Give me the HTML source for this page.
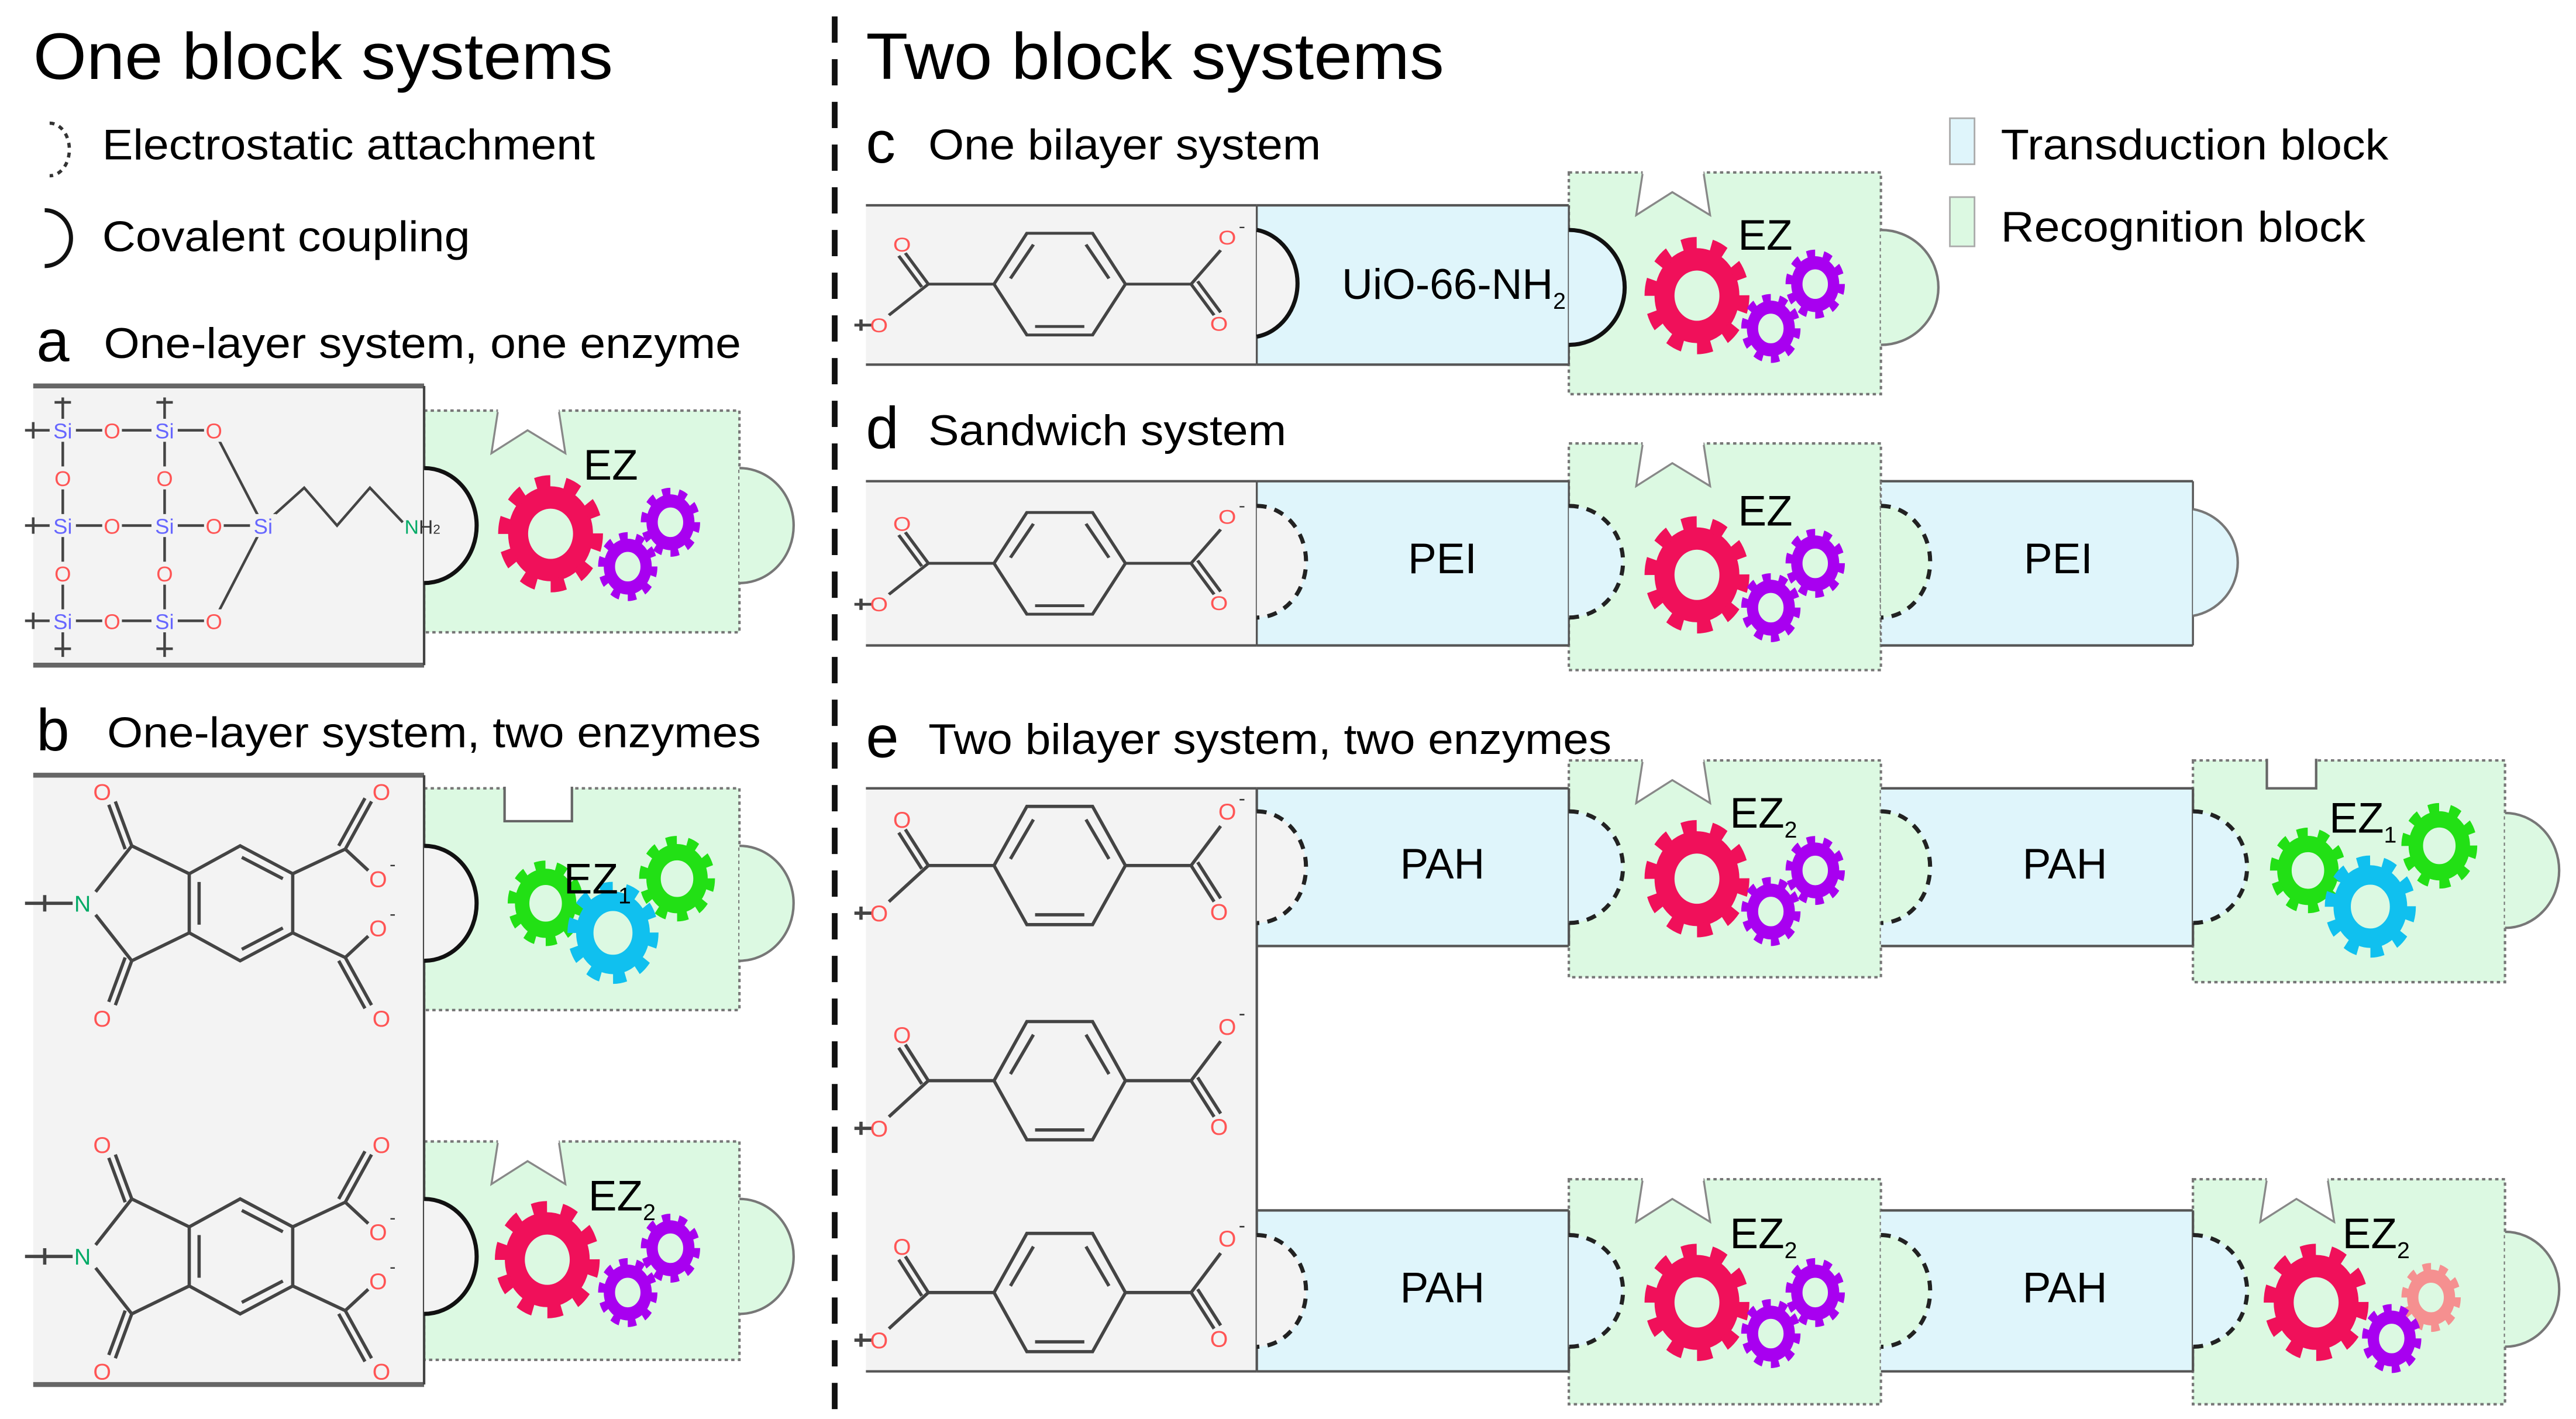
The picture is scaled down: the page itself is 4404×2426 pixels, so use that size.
<!DOCTYPE html>
<html><head><meta charset="utf-8"><style>
html,body{margin:0;padding:0;background:#fff}
svg{display:block}
text{font-family:"Liberation Sans",Arial,sans-serif}
</style></head><body>
<svg width="4404" height="2426" viewBox="0 0 1568 864" xmlns="http://www.w3.org/2000/svg">
<defs>
<g id="gear">
<circle r="26" fill="none" stroke="currentColor" stroke-width="16"/>
<circle r="37" fill="none" stroke="currentColor" stroke-width="10" pathLength="20" stroke-dasharray="1 1"/>
</g>
<g id="bdc" stroke="#444" stroke-width="2" fill="none">
<polygon points="-40,0 -20,-36 20,-36 40,0 20,36 -20,36"/>
<line x1="-30" y1="-4" x2="-16" y2="-28"/><line x1="30" y1="-4" x2="16" y2="-28"/><line x1="-15" y1="30" x2="15" y2="30"/>
<line x1="-40" y1="0" x2="-80" y2="0"/><line x1="40" y1="0" x2="80" y2="0"/>
<line x1="-80" y1="0" x2="-94" y2="-22"/><line x1="-84" y1="2" x2="-98" y2="-20"/>
<line x1="-80" y1="0" x2="-104" y2="22"/>
<line x1="80" y1="0" x2="98" y2="-24"/>
<line x1="80" y1="0" x2="94" y2="22"/><line x1="84" y1="-2" x2="98" y2="20"/>
<line x1="-125" y1="29" x2="-114" y2="29"/><line x1="-121" y1="25" x2="-121" y2="33"/>
<text x="-96" y="-23" font-size="14" fill="#f55" stroke="none" text-anchor="middle">O</text>
<text x="-110" y="34" font-size="14" fill="#f55" stroke="none" text-anchor="middle">O</text>
<text x="102" y="-28" font-size="14" fill="#f55" stroke="none" text-anchor="middle">O</text>
<text x="109" y="-37" font-size="12" fill="#333" stroke="none">-</text>
<text x="97" y="33" font-size="14" fill="#f55" stroke="none" text-anchor="middle">O</text>
</g>
</defs>

<!-- titles -->
<text x="20" y="48" font-size="40" textLength="353" lengthAdjust="spacingAndGlyphs">One block systems</text>
<text x="527" y="48" font-size="40" textLength="352" lengthAdjust="spacingAndGlyphs">Two block systems</text>
<line x1="508" y1="10" x2="508" y2="864" stroke="#111" stroke-width="3.5" stroke-dasharray="16 10"/>

<!-- legend left -->
<path d="M30,75 A12 16 0 0 1 30,107" fill="none" stroke="#333" stroke-width="2" stroke-dasharray="3 3"/>
<text x="62" y="97" font-size="26" textLength="300" lengthAdjust="spacingAndGlyphs">Electrostatic attachment</text>
<path d="M27,128 A16 17 0 0 1 27,162" fill="none" stroke="#111" stroke-width="2.5"/>
<text x="62" y="153" font-size="26" textLength="224" lengthAdjust="spacingAndGlyphs">Covalent coupling</text>

<!-- legend right -->
<rect x="1187" y="72" width="15" height="28" fill="#dff5fb" stroke="#aaa"/>
<text x="1218" y="97" font-size="26" textLength="236" lengthAdjust="spacingAndGlyphs">Transduction block</text>
<rect x="1187" y="120" width="15" height="30" fill="#dcf9e2" stroke="#aaa"/>
<text x="1218" y="147" font-size="26" textLength="222" lengthAdjust="spacingAndGlyphs">Recognition block</text>

<!-- ============ panel a ============ -->
<text x="22" y="220" font-size="36">a</text>
<text x="63" y="218" font-size="26" textLength="388" lengthAdjust="spacingAndGlyphs">One-layer system, one enzyme</text>
<rect x="258" y="250" width="192" height="135" fill="#dcf9e2" stroke="#777" stroke-width="1.5" stroke-dasharray="2 2"/>
<path d="M450,285 A33 35 0 0 1 450,355" fill="#dcf9e2" stroke="#777" stroke-width="1.5"/>
<rect x="20" y="235" width="238" height="170" fill="#f3f3f3"/>
<line x1="20" y1="235" x2="258" y2="235" stroke="#666" stroke-width="3"/>
<line x1="20" y1="405" x2="258" y2="405" stroke="#666" stroke-width="3"/>
<line x1="258" y1="235" x2="258" y2="405" stroke="#444" stroke-width="1.5"/>
<path d="M258,285 A32 35 0 0 1 258,355 Z" fill="#f3f3f3"/>
<path d="M258,285 A32 35 0 0 1 258,355" fill="none" stroke="#111" stroke-width="2.5"/>
<polygon points="303,250 299,276 321,262 344,276 340,250" fill="#fff" stroke="#888" stroke-width="1.2"/>
<line x1="303" y1="250" x2="340" y2="250" stroke="#fff" stroke-width="2"/>
<!-- silica -->
<g stroke="#444" stroke-width="1.6" fill="none">
<line x1="38" y1="242" x2="38" y2="400"/><line x1="100" y1="242" x2="100" y2="400"/>
<line x1="15" y1="262" x2="130" y2="262"/><line x1="15" y1="320" x2="160" y2="320"/><line x1="15" y1="378" x2="130" y2="378"/>
<line x1="130" y1="262" x2="160" y2="320"/><line x1="130" y1="378" x2="160" y2="320"/>
<polyline points="165,315 185,297 205,320 225,297 245,318"/>
<line x1="33" y1="245" x2="43" y2="245"/><line x1="95" y1="245" x2="105" y2="245"/>
<line x1="33" y1="395" x2="43" y2="395"/><line x1="95" y1="395" x2="105" y2="395"/>
<line x1="20" y1="257" x2="20" y2="267"/><line x1="20" y1="315" x2="20" y2="325"/><line x1="20" y1="373" x2="20" y2="383"/>
</g>
<g font-size="13" text-anchor="middle">
<g fill="#66f"><rect x="30" y="255" width="16" height="14" fill="#f3f3f3"/><text x="38" y="267">Si</text>
<rect x="92" y="255" width="16" height="14" fill="#f3f3f3"/><text x="100" y="267">Si</text>
<rect x="30" y="313" width="16" height="14" fill="#f3f3f3"/><text x="38" y="325">Si</text>
<rect x="92" y="313" width="16" height="14" fill="#f3f3f3"/><text x="100" y="325">Si</text>
<rect x="30" y="371" width="16" height="14" fill="#f3f3f3"/><text x="38" y="383">Si</text>
<rect x="92" y="371" width="16" height="14" fill="#f3f3f3"/><text x="100" y="383">Si</text>
<rect x="152" y="313" width="16" height="14" fill="#f3f3f3"/><text x="160" y="325">Si</text></g>
<g fill="#f55">
<rect x="62" y="255" width="12" height="14" fill="#f3f3f3"/><text x="68" y="267">O</text>
<rect x="124" y="255" width="12" height="14" fill="#f3f3f3"/><text x="130" y="267">O</text>
<rect x="32" y="284" width="12" height="14" fill="#f3f3f3"/><text x="38" y="296">O</text>
<rect x="94" y="284" width="12" height="14" fill="#f3f3f3"/><text x="100" y="296">O</text>
<rect x="62" y="313" width="12" height="14" fill="#f3f3f3"/><text x="68" y="325">O</text>
<rect x="124" y="313" width="12" height="14" fill="#f3f3f3"/><text x="130" y="325">O</text>
<rect x="32" y="342" width="12" height="14" fill="#f3f3f3"/><text x="38" y="354">O</text>
<rect x="94" y="342" width="12" height="14" fill="#f3f3f3"/><text x="100" y="354">O</text>
<rect x="62" y="371" width="12" height="14" fill="#f3f3f3"/><text x="68" y="383">O</text>
<rect x="124" y="371" width="12" height="14" fill="#f3f3f3"/><text x="130" y="383">O</text></g>
<text x="257" y="325" font-size="12" fill="#0a6">N<tspan fill="#333">H<tspan font-size="8">2</tspan></tspan></text>
</g>
<use href="#gear" style="color:#f0105a" transform="translate(335,325) scale(0.76,0.85)"/>
<use href="#gear" style="color:#a800f0" transform="translate(408,318) scale(0.43,0.5)"/>
<use href="#gear" style="color:#a800f0" transform="translate(382,345) scale(0.43,0.5)"/>
<text x="355" y="292" font-size="26">EZ</text>

<!-- ============ panel b ============ -->
<text x="22" y="457" font-size="36">b</text>
<text x="65" y="455" font-size="26" textLength="398" lengthAdjust="spacingAndGlyphs">One-layer system, two enzymes</text>
<rect x="258" y="480" width="192" height="135" fill="#dcf9e2" stroke="#777" stroke-width="1.5" stroke-dasharray="2 2"/>
<path d="M450,515 A33 35 0 0 1 450,585" fill="#dcf9e2" stroke="#777" stroke-width="1.5"/>
<path d="M307,479 V500 H348 V479" fill="#fff" stroke="#666" stroke-width="1.5"/>
<rect x="258" y="695" width="192" height="133" fill="#dcf9e2" stroke="#777" stroke-width="1.5" stroke-dasharray="2 2"/>
<path d="M450,730 A33 35 0 0 1 450,800" fill="#dcf9e2" stroke="#777" stroke-width="1.5"/>
<polygon points="303,695 299,721 321,707 344,721 340,695" fill="#fff" stroke="#888" stroke-width="1.2"/>
<line x1="303" y1="695" x2="340" y2="695" stroke="#fff" stroke-width="2"/>
<rect x="20" y="472" width="238" height="371" fill="#f3f3f3"/>
<line x1="20" y1="472" x2="258" y2="472" stroke="#666" stroke-width="3"/>
<line x1="20" y1="843" x2="258" y2="843" stroke="#666" stroke-width="3"/>
<line x1="258" y1="472" x2="258" y2="843" stroke="#444" stroke-width="1.5"/>
<path d="M258,515 A32 35 0 0 1 258,585 Z" fill="#f3f3f3"/>
<path d="M258,515 A32 35 0 0 1 258,585" fill="none" stroke="#111" stroke-width="2.5"/>
<path d="M258,730 A32 35 0 0 1 258,800 Z" fill="#f3f3f3"/>
<path d="M258,730 A32 35 0 0 1 258,800" fill="none" stroke="#111" stroke-width="2.5"/>
<!-- imide molecules -->
<g id="imide" stroke="#444" stroke-width="2" fill="none">
<polygon points="115,532 146,515 178,532 178,568 146,585 115,568"/>
<line x1="121" y1="537" x2="121" y2="563"/><line x1="147" y1="522" x2="172" y2="535"/><line x1="147" y1="578" x2="172" y2="565"/>
<line x1="115" y1="532" x2="80" y2="515"/><line x1="80" y1="515" x2="58" y2="543"/>
<line x1="115" y1="568" x2="80" y2="585"/><line x1="80" y1="585" x2="58" y2="557"/>
<line x1="80" y1="515" x2="70" y2="488"/><line x1="76" y1="517" x2="66" y2="490"/>
<line x1="80" y1="585" x2="70" y2="612"/><line x1="76" y1="583" x2="66" y2="610"/>
<line x1="178" y1="532" x2="210" y2="517"/><line x1="210" y1="517" x2="226" y2="488"/><line x1="206" y1="515" x2="222" y2="486"/>
<line x1="210" y1="517" x2="224" y2="530"/>
<line x1="178" y1="568" x2="210" y2="583"/><line x1="210" y1="583" x2="224" y2="570"/>
<line x1="210" y1="583" x2="226" y2="612"/><line x1="206" y1="585" x2="222" y2="614"/>
<line x1="15" y1="550" x2="44" y2="550"/><line x1="27" y1="545" x2="27" y2="555"/>
<text x="50" y="555" font-size="14" fill="#0a6" stroke="none" text-anchor="middle">N</text>
<text x="62" y="487" font-size="14" fill="#f55" stroke="none" text-anchor="middle">O</text>
<text x="62" y="625" font-size="14" fill="#f55" stroke="none" text-anchor="middle">O</text>
<text x="232" y="487" font-size="14" fill="#f55" stroke="none" text-anchor="middle">O</text>
<text x="232" y="625" font-size="14" fill="#f55" stroke="none" text-anchor="middle">O</text>
<text x="230" y="540" font-size="14" fill="#f55" stroke="none" text-anchor="middle">O</text>
<text x="230" y="570" font-size="14" fill="#f55" stroke="none" text-anchor="middle">O</text>
<text x="237" y="530" font-size="11" fill="#333" stroke="none">-</text>
<text x="237" y="560" font-size="11" fill="#333" stroke="none">-</text>
</g>
<use href="#imide" y="215"/>
<use href="#gear" style="color:#22e015" transform="translate(332,550) scale(0.55,0.62)"/>
<use href="#gear" style="color:#10c0ef" transform="translate(373,568) scale(0.66,0.74)"/>
<use href="#gear" style="color:#22e015" transform="translate(412,535) scale(0.55,0.62)"/>
<text x="343" y="544" font-size="26">EZ<tspan font-size="14" dy="6">1</tspan></text>
<use href="#gear" style="color:#f0105a" transform="translate(333,767) scale(0.76,0.85)"/>
<use href="#gear" style="color:#a800f0" transform="translate(408,760) scale(0.43,0.5)"/>
<use href="#gear" style="color:#a800f0" transform="translate(382,787) scale(0.43,0.5)"/>
<text x="358" y="737" font-size="26">EZ<tspan font-size="14" dy="6">2</tspan></text>

<!-- ============ panel c ============ -->
<text x="527" y="99" font-size="36">c</text>
<text x="565" y="97" font-size="26" textLength="239" lengthAdjust="spacingAndGlyphs">One bilayer system</text>
<rect x="955" y="105" width="190" height="135" fill="#dcf9e2" stroke="#777" stroke-width="1.5" stroke-dasharray="2 2"/>
<path d="M1145,140 A35 35 0 0 1 1145,210" fill="#dcf9e2" stroke="#777" stroke-width="1.5"/>
<polygon points="1000,105 996,131 1018,117 1041,131 1037,105" fill="#fff" stroke="#888" stroke-width="1.2"/>
<line x1="1000" y1="105" x2="1037" y2="105" stroke="#fff" stroke-width="2"/>
<rect x="765" y="125" width="190" height="97" fill="#dff5fb"/>
<line x1="765" y1="125" x2="955" y2="125" stroke="#555" stroke-width="1.5"/><line x1="765" y1="222" x2="955" y2="222" stroke="#555" stroke-width="1.5"/>
<line x1="955" y1="125" x2="955" y2="222" stroke="#555" stroke-width="1.2"/>
<path d="M955,140 A34 35 0 0 1 955,210 Z" fill="#dff5fb"/>
<path d="M955,140 A34 35 0 0 1 955,210" fill="none" stroke="#111" stroke-width="2.5"/>
<rect x="527" y="125" width="238" height="97" fill="#f3f3f3"/>
<line x1="527" y1="125" x2="765" y2="125" stroke="#555" stroke-width="1.5"/><line x1="527" y1="222" x2="765" y2="222" stroke="#555" stroke-width="1.5"/>
<line x1="765" y1="125" x2="765" y2="222" stroke="#555" stroke-width="1.2"/>
<path d="M765,140 A30 33 0 0 1 765,205 Z" fill="#f3f3f3"/>
<path d="M765,140 A30 33 0 0 1 765,205" fill="none" stroke="#111" stroke-width="2.5"/>
<use href="#bdc" transform="translate(645,173) scale(1,0.86)"/>
<text x="885" y="182" font-size="26" text-anchor="middle">UiO-66-NH<tspan font-size="14" dy="6">2</tspan></text>
<use href="#gear" style="color:#f0105a" transform="translate(1033,180) scale(0.76,0.85)"/>
<use href="#gear" style="color:#a800f0" transform="translate(1105,173) scale(0.43,0.5)"/>
<use href="#gear" style="color:#a800f0" transform="translate(1078,200) scale(0.43,0.5)"/>
<text x="1058" y="152" font-size="26">EZ</text>

<!-- ============ panel d ============ -->
<text x="527" y="273" font-size="36">d</text>
<text x="565" y="271" font-size="26" textLength="218" lengthAdjust="spacingAndGlyphs">Sandwich system</text>
<rect x="955" y="270" width="190" height="138" fill="#dcf9e2" stroke="#777" stroke-width="1.5" stroke-dasharray="2 2"/>
<polygon points="1000,270 996,296 1018,282 1041,296 1037,270" fill="#fff" stroke="#888" stroke-width="1.2"/>
<line x1="1000" y1="270" x2="1037" y2="270" stroke="#fff" stroke-width="2"/>
<rect x="1145" y="293" width="190" height="100" fill="#dff5fb"/>
<line x1="1145" y1="293" x2="1335" y2="293" stroke="#555" stroke-width="1.5"/><line x1="1145" y1="393" x2="1335" y2="393" stroke="#555" stroke-width="1.5"/>
<line x1="1335" y1="293" x2="1335" y2="393" stroke="#555" stroke-width="1.2"/>
<path d="M1335,310 A33 33 0 0 1 1335,375" fill="#dff5fb" stroke="#777" stroke-width="1.5"/>
<line x1="1145" y1="293" x2="1145" y2="393" stroke="#777" stroke-width="1.2" stroke-dasharray="2 2"/>
<path d="M1145,308 A30 34 0 0 1 1145,376 Z" fill="#dcf9e2"/>
<path d="M1145,308 A30 34 0 0 1 1145,376" fill="none" stroke="#222" stroke-width="2.5" stroke-dasharray="6 5"/>
<rect x="765" y="293" width="190" height="100" fill="#dff5fb"/>
<line x1="765" y1="293" x2="955" y2="293" stroke="#555" stroke-width="1.5"/><line x1="765" y1="393" x2="955" y2="393" stroke="#555" stroke-width="1.5"/>
<line x1="955" y1="293" x2="955" y2="393" stroke="#555" stroke-width="1.2"/>
<path d="M955,308 A33 34 0 0 1 955,376 Z" fill="#dff5fb"/>
<path d="M955,308 A33 34 0 0 1 955,376" fill="none" stroke="#222" stroke-width="2.5" stroke-dasharray="6 5"/>
<rect x="527" y="293" width="238" height="100" fill="#f3f3f3"/>
<line x1="527" y1="293" x2="765" y2="293" stroke="#555" stroke-width="1.5"/><line x1="527" y1="393" x2="765" y2="393" stroke="#555" stroke-width="1.5"/>
<line x1="765" y1="293" x2="765" y2="393" stroke="#555" stroke-width="1.2"/>
<path d="M765,308 A30 34 0 0 1 765,376 Z" fill="#f3f3f3"/>
<path d="M765,308 A30 34 0 0 1 765,376" fill="none" stroke="#222" stroke-width="2.5" stroke-dasharray="6 5"/>
<use href="#bdc" transform="translate(645,343) scale(1,0.86)"/>
<text x="878" y="349" font-size="26" text-anchor="middle">PEI</text>
<text x="1253" y="349" font-size="26" text-anchor="middle">PEI</text>
<use href="#gear" style="color:#f0105a" transform="translate(1033,350) scale(0.76,0.85)"/>
<use href="#gear" style="color:#a800f0" transform="translate(1105,343) scale(0.43,0.5)"/>
<use href="#gear" style="color:#a800f0" transform="translate(1078,370) scale(0.43,0.5)"/>
<text x="1058" y="320" font-size="26">EZ</text>

<!-- ============ panel e ============ -->
<text x="527" y="461" font-size="36">e</text>
<text x="565" y="459" font-size="26" textLength="416" lengthAdjust="spacingAndGlyphs">Two bilayer system, two enzymes</text>
<rect x="955" y="463" width="190" height="132" fill="#dcf9e2" stroke="#777" stroke-width="1.5" stroke-dasharray="2 2"/>
<polygon points="1000,463 996,489 1018,475 1041,489 1037,463" fill="#fff" stroke="#888" stroke-width="1.2"/>
<line x1="1000" y1="463" x2="1037" y2="463" stroke="#fff" stroke-width="2"/>
<rect x="1335" y="463" width="190" height="135" fill="#dcf9e2" stroke="#777" stroke-width="1.5" stroke-dasharray="2 2"/>
<path d="M1525,495 A33 35 0 0 1 1525,565" fill="#dcf9e2" stroke="#777" stroke-width="1.5"/>
<path d="M1380,462 V480 H1410 V462" fill="#fff" stroke="#666" stroke-width="1.5"/>
<rect x="955" y="718" width="190" height="137" fill="#dcf9e2" stroke="#777" stroke-width="1.5" stroke-dasharray="2 2"/>
<polygon points="1000,718 996,744 1018,730 1041,744 1037,718" fill="#fff" stroke="#888" stroke-width="1.2"/>
<line x1="1000" y1="718" x2="1037" y2="718" stroke="#fff" stroke-width="2"/>
<rect x="1335" y="718" width="190" height="137" fill="#dcf9e2" stroke="#777" stroke-width="1.5" stroke-dasharray="2 2"/>
<path d="M1525,750 A33 35 0 0 1 1525,820" fill="#dcf9e2" stroke="#777" stroke-width="1.5"/>
<polygon points="1380,718 1376,744 1398,730 1421,744 1417,718" fill="#fff" stroke="#888" stroke-width="1.2"/>
<line x1="1380" y1="718" x2="1417" y2="718" stroke="#fff" stroke-width="2"/>
<g>
<rect x="765" y="480" width="190" height="96" fill="#dff5fb"/>
<rect x="1145" y="480" width="190" height="96" fill="#dff5fb"/>
<rect x="765" y="737" width="190" height="98" fill="#dff5fb"/>
<rect x="1145" y="737" width="190" height="98" fill="#dff5fb"/>
<g stroke="#555" stroke-width="1.5">
<line x1="765" y1="480" x2="955" y2="480"/><line x1="765" y1="576" x2="955" y2="576"/>
<line x1="1145" y1="480" x2="1335" y2="480"/><line x1="1145" y1="576" x2="1335" y2="576"/>
<line x1="765" y1="737" x2="955" y2="737"/><line x1="765" y1="835" x2="955" y2="835"/>
<line x1="1145" y1="737" x2="1335" y2="737"/><line x1="1145" y1="835" x2="1335" y2="835"/>
<line x1="955" y1="480" x2="955" y2="576"/><line x1="1335" y1="480" x2="1335" y2="576"/>
<line x1="955" y1="737" x2="955" y2="835"/><line x1="1335" y1="737" x2="1335" y2="835"/>
</g>
</g>
<path d="M955,494 A33 34 0 0 1 955,562 Z" fill="#dff5fb"/><path d="M955,494 A33 34 0 0 1 955,562" fill="none" stroke="#222" stroke-width="2.5" stroke-dasharray="6 5"/>
<path d="M1335,494 A33 34 0 0 1 1335,562 Z" fill="#dff5fb"/><path d="M1335,494 A33 34 0 0 1 1335,562" fill="none" stroke="#222" stroke-width="2.5" stroke-dasharray="6 5"/>
<path d="M955,752 A33 34 0 0 1 955,820 Z" fill="#dff5fb"/><path d="M955,752 A33 34 0 0 1 955,820" fill="none" stroke="#222" stroke-width="2.5" stroke-dasharray="6 5"/>
<path d="M1335,752 A33 34 0 0 1 1335,820 Z" fill="#dff5fb"/><path d="M1335,752 A33 34 0 0 1 1335,820" fill="none" stroke="#222" stroke-width="2.5" stroke-dasharray="6 5"/>
<path d="M1145,494 A30 34 0 0 1 1145,562 Z" fill="#dcf9e2"/><path d="M1145,494 A30 34 0 0 1 1145,562" fill="none" stroke="#222" stroke-width="2.5" stroke-dasharray="6 5"/>
<path d="M1145,752 A30 34 0 0 1 1145,820 Z" fill="#dcf9e2"/><path d="M1145,752 A30 34 0 0 1 1145,820" fill="none" stroke="#222" stroke-width="2.5" stroke-dasharray="6 5"/>
<rect x="527" y="480" width="238" height="355" fill="#f3f3f3"/>
<line x1="527" y1="480" x2="765" y2="480" stroke="#555" stroke-width="1.5"/><line x1="527" y1="835" x2="765" y2="835" stroke="#555" stroke-width="1.5"/>
<line x1="765" y1="480" x2="765" y2="835" stroke="#555" stroke-width="1.5"/>
<path d="M765,494 A30 34 0 0 1 765,562 Z" fill="#f3f3f3"/><path d="M765,494 A30 34 0 0 1 765,562" fill="none" stroke="#222" stroke-width="2.5" stroke-dasharray="6 5"/>
<path d="M765,752 A30 34 0 0 1 765,820 Z" fill="#f3f3f3"/><path d="M765,752 A30 34 0 0 1 765,820" fill="none" stroke="#222" stroke-width="2.5" stroke-dasharray="6 5"/>
<use href="#bdc" transform="translate(645,527)"/>
<use href="#bdc" transform="translate(645,658)"/>
<use href="#bdc" transform="translate(645,787)"/>
<text x="878" y="535" font-size="26" text-anchor="middle">PAH</text>
<text x="1257" y="535" font-size="26" text-anchor="middle">PAH</text>
<text x="878" y="793" font-size="26" text-anchor="middle">PAH</text>
<text x="1257" y="793" font-size="26" text-anchor="middle">PAH</text>
<use href="#gear" style="color:#f0105a" transform="translate(1033,535) scale(0.76,0.85)"/>
<use href="#gear" style="color:#a800f0" transform="translate(1105,530) scale(0.43,0.5)"/>
<use href="#gear" style="color:#a800f0" transform="translate(1078,555) scale(0.43,0.5)"/>
<text x="1053" y="504" font-size="26">EZ<tspan font-size="14" dy="6">2</tspan></text>
<use href="#gear" style="color:#22e015" transform="translate(1405,530) scale(0.55,0.62)"/>
<use href="#gear" style="color:#10c0ef" transform="translate(1443,552) scale(0.66,0.74)"/>
<use href="#gear" style="color:#22e015" transform="translate(1485,515) scale(0.55,0.62)"/>
<text x="1418" y="507" font-size="26">EZ<tspan font-size="14" dy="6">1</tspan></text>
<use href="#gear" style="color:#f0105a" transform="translate(1033,793) scale(0.76,0.85)"/>
<use href="#gear" style="color:#a800f0" transform="translate(1105,787) scale(0.43,0.5)"/>
<use href="#gear" style="color:#a800f0" transform="translate(1078,812) scale(0.43,0.5)"/>
<text x="1053" y="760" font-size="26">EZ<tspan font-size="14" dy="6">2</tspan></text>
<use href="#gear" style="color:#f0105a" transform="translate(1410,793) scale(0.76,0.85)"/>
<use href="#gear" style="color:#f59090" transform="translate(1480,790) scale(0.43,0.5)"/>
<use href="#gear" style="color:#a800f0" transform="translate(1456,815) scale(0.43,0.5)"/>
<text x="1426" y="760" font-size="26">EZ<tspan font-size="14" dy="6">2</tspan></text>
</svg>
</body></html>
